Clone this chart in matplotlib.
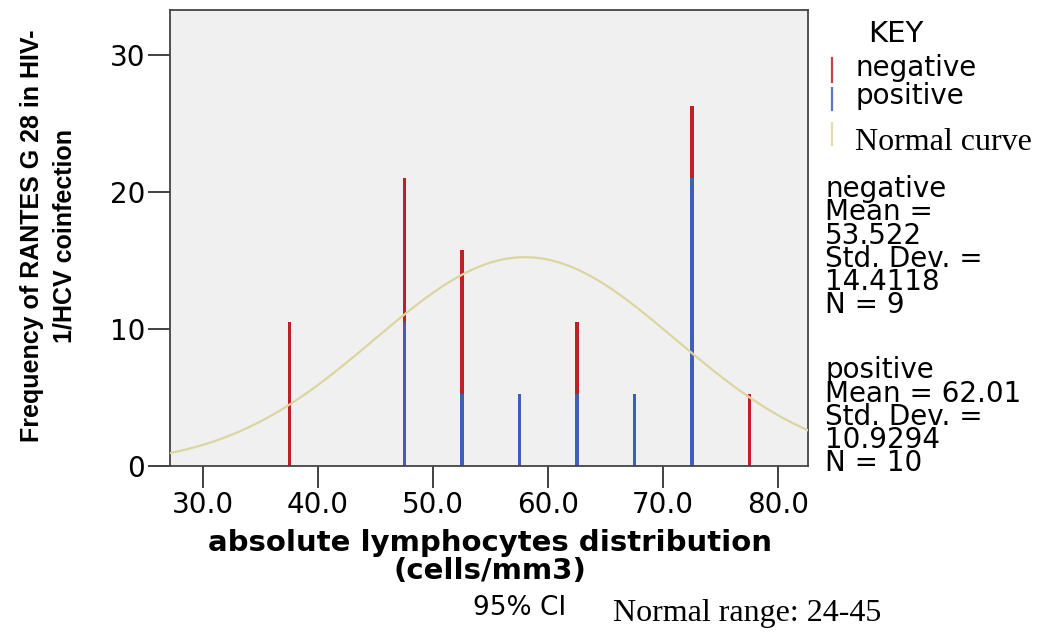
import matplotlib.pyplot as plt
import numpy as np
from matplotlib.lines import Line2D

# bin centres and stacked percentages (positive at bottom, negative on top)
bins = [37.5, 47.5, 52.5, 57.5, 62.5, 67.5, 72.5, 77.5]
positive = [0.0, 10.53, 5.26, 5.26, 5.26, 5.26, 21.05, 0.0]
negative = [10.53, 10.53, 10.53, 0.0, 5.26, 0.0, 5.26, 5.26]

# fitted normal curve (all cases, mean / SD, scaled to percent per 5-unit bin)
curve_mean = 57.99
curve_sd = 13.08
curve_peak = 15.25

xticks = [30, 40, 50, 60, 70, 80]
yticks = [0, 10, 20, 30]

neg_stats = ["negative", "Mean =", "53.522", "Std. Dev. =", "14.4118", "N = 9"]
pos_stats = ["positive", "Mean = 62.01", "Std. Dev. =", "10.9294", "N = 10"]

red = '#bf2026'
blue = '#3f5fb7'
tan = '#ddd5a0'

fig = plt.figure(figsize=(10.62, 6.33), dpi=100)
ax = fig.add_axes([0.160, 0.2638, 0.601, 0.7204])
ax.set_facecolor('#f0f0f0')

ax.bar(bins, positive, width=0.3, color=blue, zorder=2)
ax.bar(bins, negative, width=0.3, bottom=positive, color=red, zorder=2)

xs = np.linspace(27.13, 82.6, 300)
ax.plot(xs, curve_peak * np.exp(-0.5 * ((xs - curve_mean) / curve_sd) ** 2),
        color=tan, linewidth=1.6, zorder=3)

ax.set_xlim(27.13, 82.6)
ax.set_ylim(0, 33.3)
ax.set_xticks(xticks)
ax.set_xticklabels([f"{t:.1f}" for t in xticks])
ax.set_yticks(yticks)
ax.tick_params(length=16, width=1.3, color='#333333', labelsize=20, pad=2)
for s in ax.spines.values():
    s.set_color('#444444')
    s.set_linewidth(1.3)

# axis titles
fig.text(0.045, 0.627, "Frequency of RANTES G 28 in HIV-\n1/HCV coinfection",
         rotation=90, ha='center', va='center', multialignment='center',
         fontsize=18, fontweight='bold', linespacing=1.45, family='Liberation Sans')
fig.text(0.461, 0.12, "absolute lymphocytes distribution\n(cells/mm3)",
         ha='center', va='center', fontsize=21, fontweight='bold', linespacing=1.03)

fig.text(473 / 1062, 1 - 608 / 633, "95% CI", ha='left', va='center', fontsize=19)
fig.text(613 / 1062, 1 - 613 / 633, "Normal range: 24-45", ha='left', va='center',
         fontsize=23, family='Liberation Serif')

# key
fig.text(868 / 1062, 1 - 42 / 633, "KEY", ha='left', va='baseline', fontsize=21)
for col, y0, y1 in [(red, 58, 82), (blue, 88, 110), (tan, 123, 145)]:
    fig.add_artist(Line2D([832 / 1062] * 2, [1 - y0 / 633, 1 - y1 / 633],
                          color=col, linewidth=1.6, alpha=0.85,
                          transform=fig.transFigure))
fig.text(855 / 1062, 1 - 104 / 633, "negative\npositive", ha='left', va='baseline',
         fontsize=20, linespacing=1.0)
fig.text(855 / 1062, 1 - 150 / 633, "Normal curve", ha='left', va='baseline',
         fontsize=23, family='Liberation Serif')

# summary statistics (anchored at the baseline of each block's last line)
fig.text(825 / 1062, 1 - 313 / 633, "\n".join(neg_stats),
         ha='left', va='baseline', fontsize=20, linespacing=0.78)
fig.text(825 / 1062, 1 - 471 / 633, "\n".join(pos_stats),
         ha='left', va='baseline', fontsize=20, linespacing=0.78)

fig.savefig('out.png', dpi=100)
